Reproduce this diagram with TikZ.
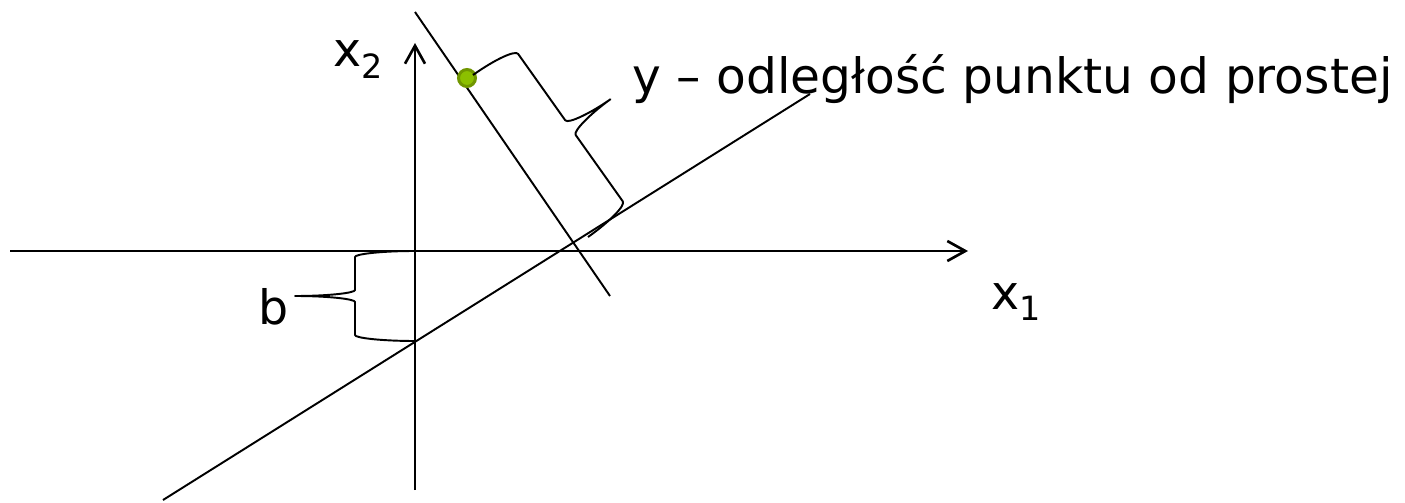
\documentclass[tikz,border=0pt]{standalone}
\usepackage{fontspec}
\setmainfont{DejaVu Sans}
\usetikzlibrary{arrows.meta}
\definecolor{dotring}{RGB}{112,150,0}
\definecolor{dotfill}{RGB}{140,192,0}
\newcommand{\lowsub}[1]{\raisebox{-6.5pt}{\fontsize{19}{22}\selectfont #1}}

\begin{document}
\begin{tikzpicture}[x=0.02cm, y=-0.02cm, font=\fontsize{27}{32}\selectfont,
  axis/.style={line width=1.5pt, -{Straight Barb[length=3.6mm, width=4mm]}},
  thin/.style={line width=1.1pt},
  brace/.style={line width=1.1pt, line join=round},
  lbl/.style={anchor=base west, inner sep=0pt},
  dot/.style={circle, draw=dotring, fill=dotfill, line width=1.7pt, minimum size=0.34cm, inner sep=0pt}]

\useasboundingbox (0,0) rectangle (1405,503);

% =================================================================================
% the axes
% =================================================================================
\coordinate (xl) at (10,251);
\coordinate (xr) at (968,251);
\coordinate (yb) at (415,490);
\coordinate (yt) at (415,43);
\draw[axis] (xl) -- (xr);
\draw[axis] (yb) -- (yt);

\node[lbl] (x1) at (991,309) {x\lowsub{1}};
\node[lbl] (x2) at (333,67)  {x\lowsub{2}};

% =================================================================================
% the line, the perpendicular and the point
% =================================================================================
\coordinate (la) at (163,500);
\coordinate (lb) at (810,94);
\coordinate (pa) at (415,12);
\coordinate (pb) at (610,296);
\draw[thin] (la) -- (lb);
\draw[thin] (pa) -- (pb);
\node[dot] (pt) at (467,78) {};

% =================================================================================
% brace y: from the point down to the line
% =================================================================================
\coordinate (ytop) at (473,75);
\coordinate (ybot) at (588,237);
\begin{scope}[shift={(ytop)}, rotate=-54.63, x=0.02cm, y=0.02cm]
  \draw[brace] (0,0) .. controls (0,27) and (4,49) .. (9,49)
    -- (90.35,49) .. controls (95.3,49) and (99.35,76) .. (99.35,98)
    .. controls (99.35,76) and (103.4,49) .. (108.35,49)
    -- (189.7,49) .. controls (194.7,49) and (198.7,27) .. (198.7,0);
\end{scope}
\node[lbl, font=\fontsize{27.7}{32}\selectfont] (ytxt) at (632,94) {y – odległość punktu od prostej};

% =================================================================================
% brace b: on the x2 axis, between x1 and the line
% =================================================================================
\coordinate (bbot) at (415,341);
\coordinate (btop) at (415,251);
\begin{scope}[shift={(bbot)}, rotate=90, x=0.02cm, y=0.02cm]
  \draw[brace] (0,0) .. controls (0,33) and (3,60) .. (6,60)
    -- (39,60) .. controls (42,60) and (45,87) .. (45,120)
    .. controls (45,87) and (48,60) .. (51,60)
    -- (84,60) .. controls (87,60) and (90,33) .. (90,0);
\end{scope}
\node[lbl] (blbl) at (258,324) {b};

\end{tikzpicture}
\end{document}
